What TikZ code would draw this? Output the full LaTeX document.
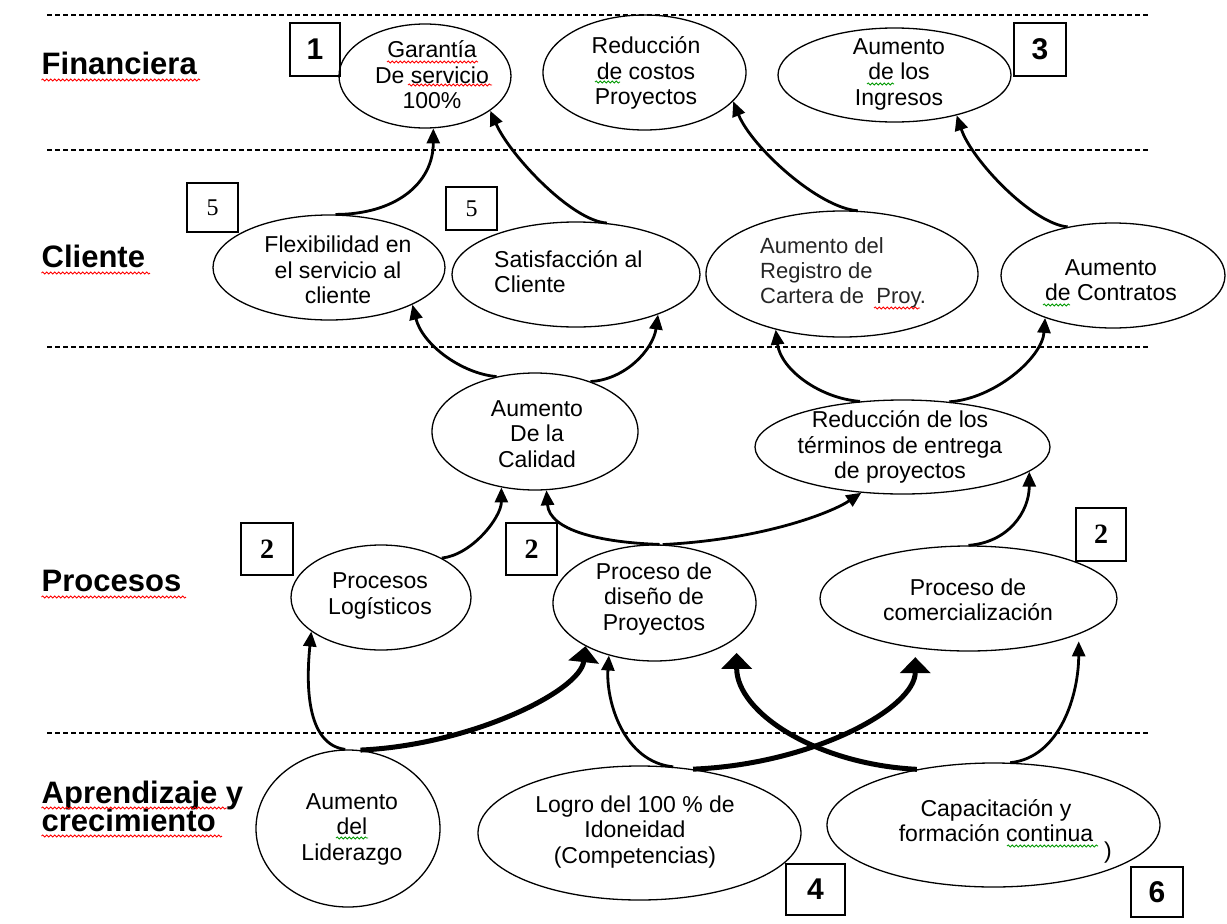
\documentclass[tikz,border=0pt]{standalone}
\usepackage{fontspec}
\setmainfont{Liberation Sans}
\newfontfamily\numserif{Liberation Serif}
\usetikzlibrary{arrows.meta,shapes.geometric,decorations.pathmorphing}
\begin{document}
\begin{tikzpicture}[x=1pt,y=-1pt]
\tikzset{
 ell/.style={draw, ellipse, line width=1.3pt, inner sep=0pt},
 txt/.style={font=\fontsize{23}{25.5}\selectfont, align=center, inner sep=0pt},
 lab/.style={font=\fontsize{31}{25}\selectfont\bfseries, anchor=base west, inner sep=0pt},
 numbox/.style={draw, line width=1.5pt, inner sep=0pt},
 sansnum/.style={numbox, font=\fontsize{30}{30}\selectfont\bfseries},
 serifnum/.style={numbox, font=\numserif\fontsize{24}{24}\selectfont},
 serifbnum/.style={numbox, font=\numserif\fontsize{28}{28}\selectfont\bfseries},
 conn/.style={line width=2.8pt, -{Triangle[length=15pt,width=13pt]}},
 bigconn/.style={line width=5pt, -{Triangle[length=16pt,width=30pt]}},
 sepline/.style={line width=2.8pt, dash pattern=on 5pt off 3pt},
 squig/.style={draw=#1, line width=0.8pt, decorate, decoration={snake, amplitude=1.1pt, segment length=4pt}},
}
\useasboundingbox (0,0) rectangle (1227,924);
\fill[white] (0,0) rectangle (1227,924);

% separators
\draw[sepline] (47,15) -- (1150,15);
\draw[sepline] (47,150) -- (1150,150);
\draw[sepline] (47,347) -- (1150,347);
\draw[sepline] (47,733) -- (1150,733);

% section labels
\node[lab] (lfin) at (41.5,74) {Financiera};
\node[lab] (lcli) at (41.5,267) {Cliente};
\node[lab] (lpro) at (41.5,591) {Procesos};
\node[lab] (lapr) at (41.5,803) {Aprendizaje y};
\node[lab] (lcre) at (41.5,831) {crecimiento};

% ellipses
\node[ell, minimum width=172pt, minimum height=104pt] (gar) at (425,76) {};
\node[ell, minimum width=203pt, minimum height=115pt] (red) at (644.5,72.5) {};
\node[ell, minimum width=233pt, minimum height=94pt] (ing) at (894.5,75) {};
\node[ell, minimum width=232pt, minimum height=105pt] (flex) at (329,267.5) {};
\node[ell, minimum width=248pt, minimum height=105pt] (sat) at (576,274.5) {};
\node[ell, minimum width=272pt, minimum height=126pt] (reg) at (842,274) {};
\node[ell, minimum width=224pt, minimum height=105pt] (con) at (1113,275.5) {};
\node[ell, minimum width=206pt, minimum height=117pt] (cal) at (535,431.5) {};
\node[ell, minimum width=295pt, minimum height=94pt] (ter) at (902.5,447) {};
\node[ell, minimum width=180pt, minimum height=105pt] (log) at (381,597.5) {};
\node[ell, minimum width=203pt, minimum height=116pt] (dis) at (654.5,603) {};
\node[ell, minimum width=297pt, minimum height=105pt] (com) at (968.5,598.5) {};
\node[ell, minimum width=184pt, minimum height=157pt] (lid) at (348,828.5) {};
\node[ell, minimum width=323pt, minimum height=134pt] (logro) at (639.5,833) {};
\node[ell, minimum width=333pt, minimum height=124pt] (cap) at (993.5,825) {};

% texts
\node[txt] (tgar) at (432,75) {Garantía\\De servicio\\100\%};
\node[txt] (tred) at (646,73) {Reducción\\de costos\\Proyectos};
\node[txt] (ting) at (899,74) {Aumento\\de los\\Ingresos};
\node[txt] (tflex) at (338,270) {Flexibilidad en\\el servicio al\\cliente};
\node[txt, align=left, anchor=west] (tsat) at (494,271.5) {Satisfacción al\\Cliente};
\node[txt, align=left, anchor=west, font=\fontsize{22}{25}\selectfont, text=black!85] (treg) at (760,273) {Aumento del\\Registro de\\Cartera de\ \ Proy.};
\node[txt] (tcon) at (1111,280) {Aumento\\de Contratos};
\node[txt] (tcal) at (537,434) {Aumento\\De la\\Calidad};
\node[txt] (tter) at (900,447) {Reducción de los\\términos de entrega\\de proyectos};
\node[txt] (tlog) at (380,596) {Procesos\\Logísticos};
\node[txt] (tdis) at (654,599) {Proceso de\\diseño de\\Proyectos};
\node[txt] (tcom) at (968,600) {Proceso de\\comercialización};
\node[txt] (tlid) at (352,829) {Aumento\\del\\Liderazgo};
\node[txt] (tlogro) at (635,832) {Logro del 100 \% de\\Idoneidad\\(Competencias)};
\node[txt] (tcap) at (996,820.5) {Capacitación y\\formación continua};
\node[txt] (tpar) at (1108,853) {)};

% number boxes
\node[sansnum, minimum width=50pt, minimum height=53pt] (b1) at (315,49.5) {1};
\node[sansnum, minimum width=52pt, minimum height=53pt] (b3) at (1040,49.5) {3};
\node[serifnum, minimum width=51pt, minimum height=49pt] (b5a) at (212.5,207.5) {5};
\node[serifnum, minimum width=51pt, minimum height=43pt] (b5b) at (471.5,208.5) {5};
\node[serifbnum, minimum width=52pt, minimum height=52pt] (b2a) at (267,549) {2};
\node[serifbnum, minimum width=51pt, minimum height=52pt] (b2b) at (531.5,549) {2};
\node[serifbnum, minimum width=50pt, minimum height=53pt] (b2c) at (1101,534.5) {2};
\node[sansnum, minimum width=59pt, minimum height=51pt] (b4) at (815.5,889.5) {4};
\node[sansnum, minimum width=52pt, minimum height=50pt] (b6) at (1157,892) {6};

% connectors
\draw[conn] (flex.83) .. controls +(60,0) and +(0,55) .. (gar.-81);
\draw[conn] (sat.59) .. controls +(-35,-2) and +(20,45) .. (gar.-28);
\draw[conn] (reg.76) .. controls +(-40,-3) and +(18,45) .. (red.-18);
\draw[conn] (con.133) .. controls +(-35,-3) and +(15,45) .. (ing.-33);
\draw[conn] (cal.125) .. controls +(-35,-3) and +(10,40) .. (flex.-24);
\draw[conn] (cal.42) .. controls +(35,-2) and +(-5,35) .. (sat.-26);
\draw[conn] (ter.133) .. controls +(-40,-3) and +(5,40) .. (reg.-140);
\draw[conn] (ter.44.5) .. controls +(45,-3) and +(-3,40) .. (con.-148);
\draw[conn] (log.33) .. controls +(30,-3) and +(0,30) .. (cal.-121);
\draw[conn] (dis.85) .. controls +(-60,-2) and +(3,40) .. (cal.-79);
\draw[conn] (dis.82) .. controls +(100,-5) and +(-30,20) .. (ter.-132);
\draw[conn] (com.90) .. controls +(40,-3) and +(0,40) .. (ter.-11);
\draw[conn] (lid.92) .. controls +(-40,-5) and +(-5,50) .. (log.-154);
\draw[bigconn] (lid.81) .. controls +(110,-5) and +(-5,45) .. (dis.-148);
\draw[conn] (logro.63.6) .. controls +(-50,-5) and +(-3,45) .. (dis.-131);
\draw[bigconn, shorten >=9pt] (logro.50.4) .. controls +(120,-5) and +(0,60) .. (com.-137.5);
\draw[bigconn, shorten >=15pt] (cap.144.7) .. controls +(-100,-5) and +(0,75) .. (dis.-23);
\draw[conn, shorten >=7pt] (cap.75) .. controls +(50,-5) and +(0,60) .. (com.-18);

% spell-check squiggles
\draw[squig=red] (41.5,80) -- (200,80);
\draw[squig=red] (41.5,273) -- (150,273);
\draw[squig=red] (41.5,597) -- (186,597);
\draw[squig=red] (41.5,808) -- (227,808);
\draw[squig=red] (41.5,836) -- (222,836);
\draw[squig=red] (387,62) -- (478,62);
\draw[squig=red] (408,85) -- (492,85);
\draw[squig=red] (874,308) -- (920,308);
\draw[squig={green!60!black}] (595,82) -- (620,82);
\draw[squig={green!60!black}] (867,84) -- (894,84);
\draw[squig={green!60!black}] (1043,305) -- (1070,305);
\draw[squig={green!60!black}] (336,838) -- (368,838);
\draw[squig={green!60!black}] (1007,846) -- (1098,846);
\end{tikzpicture}
\end{document}
